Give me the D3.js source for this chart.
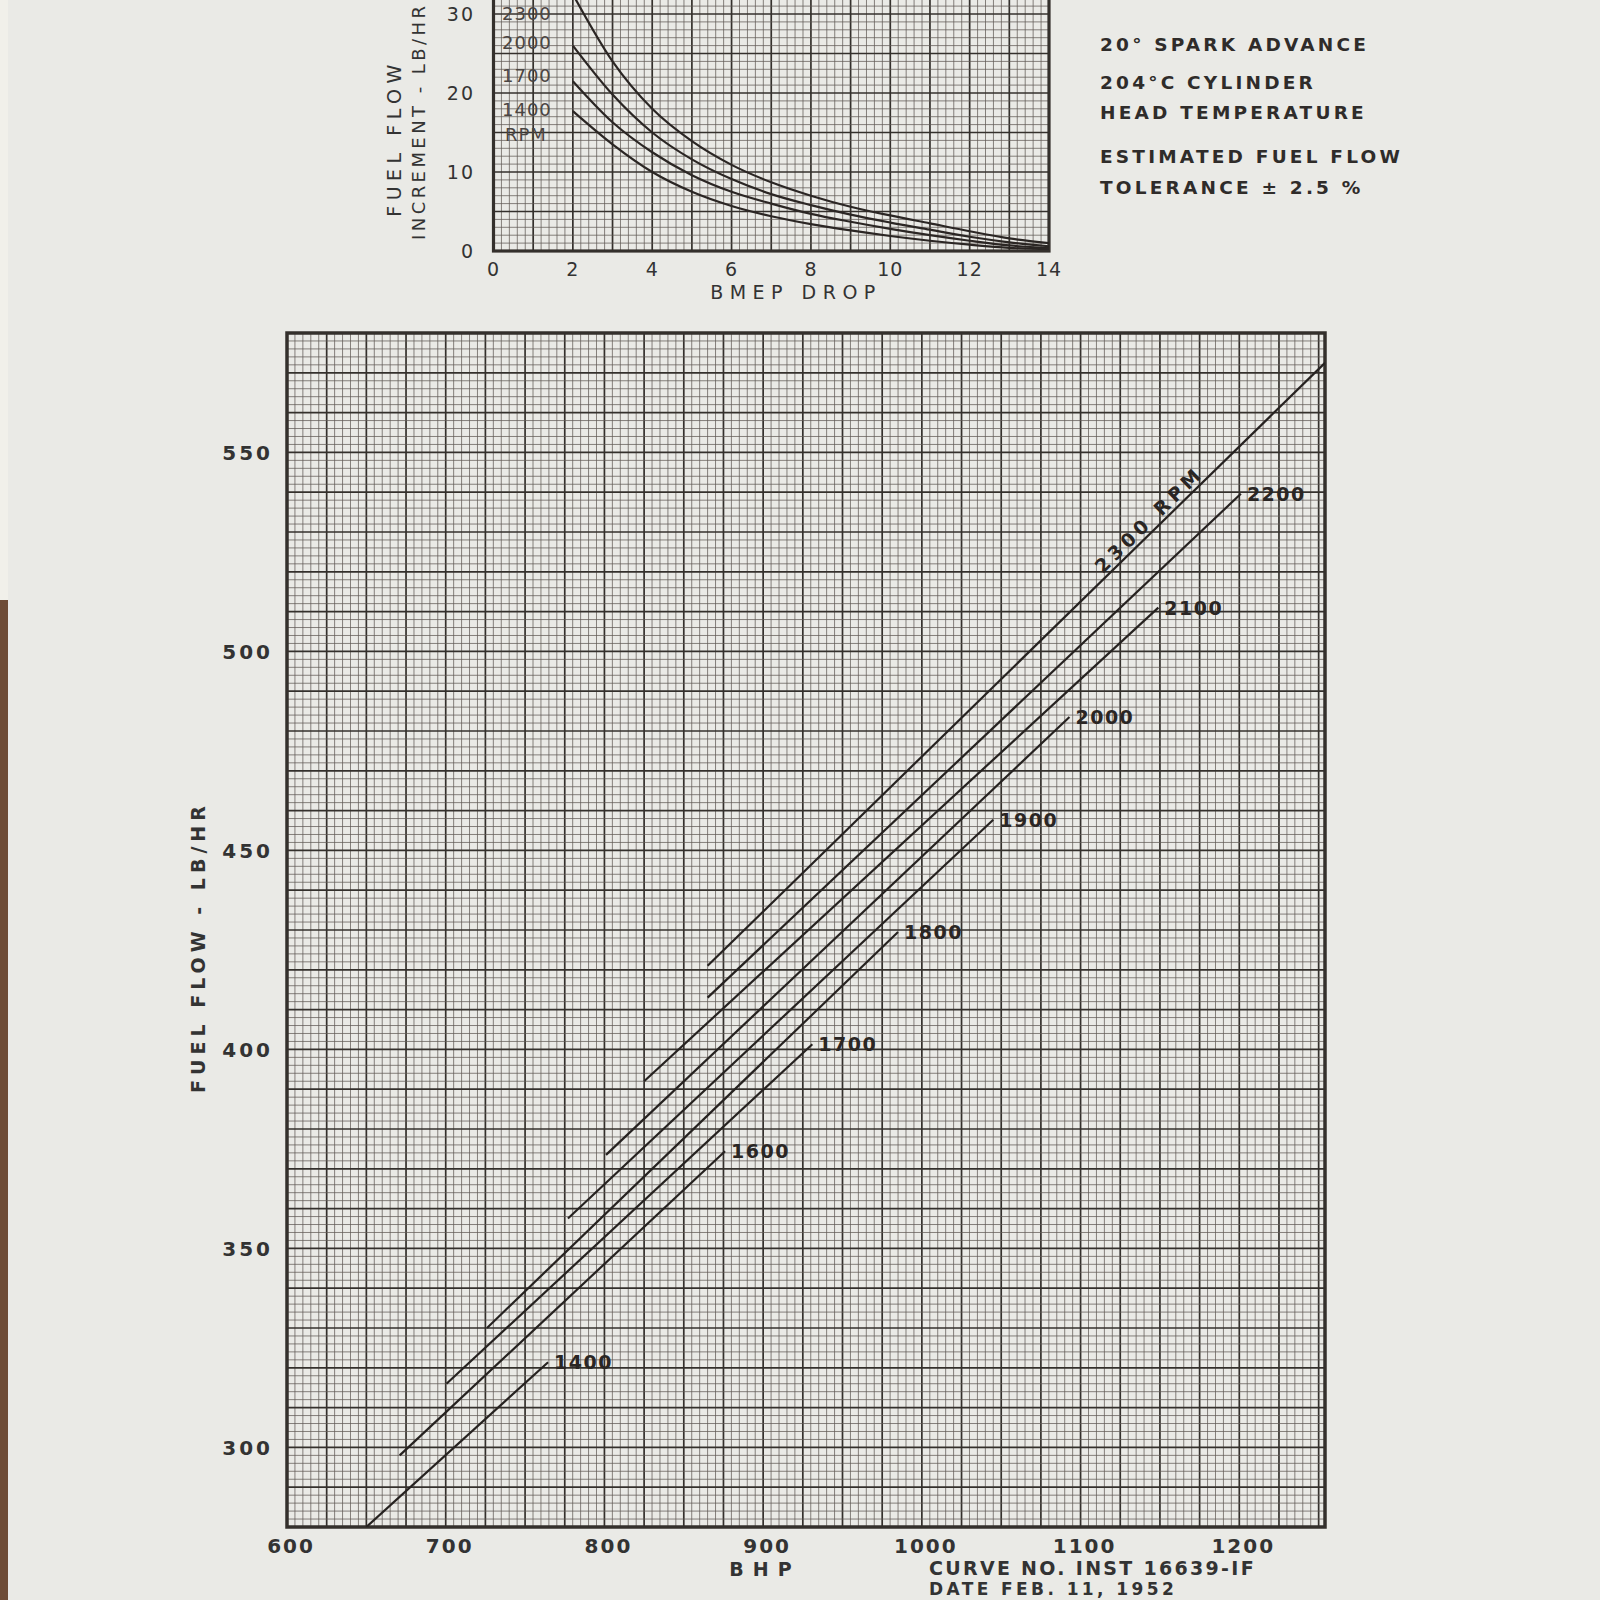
<!DOCTYPE html>
<html><head><meta charset="utf-8">
<script src="https://cdn.jsdelivr.net/npm/d3@7"></script>
<style>body{margin:0;background:#eaeae6;} svg{display:block;}</style>
</head><body><svg id="c" width="1600" height="1600"></svg>
<script>
// ---------- main chart data ----------
const rpmLabels = ["2300","2200","2100","2000","1900","1800","1700","1600","1400"];
const bhpStart  = [865, 865, 825, 801, 777, 726, 700.5, 671, 650];
const flowStart = [421, 413, 392, 373.5, 357.5, 330, 316, 298, 280];
const bhpEnd    = [1254, 1201, 1149, 1093, 1045, 985, 931, 876, 764.5];
const flowEnd   = [572.5, 539.6, 511, 483.5, 457.7, 429.5, 401.3, 374.4, 321.4];
const xTicks = [600, 700, 800, 900, 1000, 1100, 1200];
const yTicks = [300, 350, 400, 450, 500, 550];

// ---------- inset data ----------
const bmepDrop = [2, 3, 4, 5, 6, 7, 8, 9, 10, 11, 12, 13, 14];
const inc2300 = [32.5, 24.0, 18.0, 13.9, 10.9, 8.7, 7.0, 5.6, 4.5, 3.5, 2.5, 1.6, 1.0];
const inc2000 = [26.0, 19.8, 15.0, 11.6, 9.1, 7.2, 5.8, 4.6, 3.6, 2.7, 1.8, 1.1, 0.6];
const inc1700 = [21.5, 16.3, 12.5, 9.6, 7.5, 6.0, 4.7, 3.7, 2.8, 2.0, 1.3, 0.7, 0.4];
const inc1400 = [17.7, 13.5, 10.0, 7.5, 5.7, 4.4, 3.4, 2.6, 1.9, 1.3, 0.8, 0.4, 0.25];
const insetRpm = ["2300", "2000", "1700", "1400"];
const insetXTicks = [0, 2, 4, 6, 8, 10, 12, 14];
const insetYTicks = [0, 10, 20, 30];
const notes = ["20° SPARK ADVANCE", "204°C CYLINDER", "HEAD TEMPERATURE", "ESTIMATED FUEL FLOW", "TOLERANCE ± 2.5 %"];

const FONT = "'DejaVu Sans', 'Open Sans', sans-serif";
const INK = "#34302c";
const GRID = "#625b56";
const svg = d3.select("#c");

// left table edge decoration
svg.append("rect").attr("x",0).attr("y",600).attr("width",8).attr("height",1000).attr("fill","#6e4c36");
svg.append("rect").attr("x",0).attr("y",0).attr("width",8).attr("height",600).attr("fill","#f1f0ea");

// ================= MAIN CHART =================
const x = d3.scaleLinear().domain([600, 1254]).range([287, 1325]);
const y = d3.scaleLinear().domain([280, 580]).range([1527, 333]);

const gMain = svg.append("g");
const nx = Math.floor((1254 - 600) / 5);
for (let i = 0; i <= nx; i++) {
  const v = 600 + 5 * i, maj = i % 5 === 0;
  gMain.append("line").attr("x1", x(v)).attr("x2", x(v)).attr("y1", y(280)).attr("y2", y(580))
    .attr("stroke", maj ? INK : GRID).attr("stroke-width", maj ? 1.7 : 0.75);
}
for (let i = 0; i <= 150; i++) {
  const v = 280 + 2 * i, maj = i % 5 === 0;
  gMain.append("line").attr("x1", x(600)).attr("x2", x(1254)).attr("y1", y(v)).attr("y2", y(v))
    .attr("stroke", maj ? INK : GRID).attr("stroke-width", maj ? 1.7 : 0.75);
}
gMain.append("rect").attr("x", x(600)).attr("y", y(580)).attr("width", x(1254) - x(600)).attr("height", y(280) - y(580))
  .attr("fill", "none").attr("stroke", INK).attr("stroke-width", 3.5);

svg.append("clipPath").attr("id", "mclip").append("rect")
  .attr("x", x(600)).attr("y", y(580)).attr("width", x(1254) - x(600)).attr("height", y(280) - y(580));

const mainData = rpmLabels.map((r, i) => ({ r, p: [[bhpStart[i], flowStart[i]], [bhpEnd[i], flowEnd[i]]] }));
const ln = d3.line().x(d => x(d[0])).y(d => y(d[1]));
gMain.append("g").attr("clip-path", "url(#mclip)").selectAll("path").data(mainData).join("path")
  .attr("d", d => ln(d.p)).attr("fill", "none").attr("stroke", "#262220").attr("stroke-width", 2.2);

// end labels
mainData.filter(d => d.r !== "2300").forEach(d => {
  gMain.append("text").attr("x", x(d.p[1][0]) + 6).attr("y", y(d.p[1][1]) + 7)
    .attr("font-family", FONT).attr("font-size", 19).attr("font-weight", "bold").attr("letter-spacing", 1.5)
    .attr("fill", "#2a2624").text(d.r);
});
// rotated 2300 RPM label
{
  const d = mainData[0];
  const ang = Math.atan2(y(d.p[1][1]) - y(d.p[0][1]), x(d.p[1][0]) - x(d.p[0][0])) * 180 / Math.PI;
  const bx = 1148, by = d.p[0][1] + (bx - d.p[0][0]) * (d.p[1][1] - d.p[0][1]) / (d.p[1][0] - d.p[0][0]);
  gMain.append("text").attr("transform", `translate(${x(bx)},${y(by)}) rotate(${ang})`)
    .attr("y", -4).attr("text-anchor", "middle")
    .attr("font-family", FONT).attr("font-size", 19).attr("font-weight", "bold").attr("letter-spacing", 4.5)
    .attr("fill", "#2a2624").text("2300 RPM");
}

// axes labels
xTicks.forEach(t => {
  svg.append("text").attr("x", x(t) + 4).attr("y", 1553).attr("text-anchor", "middle")
    .attr("font-family", FONT).attr("font-size", 20).attr("font-weight", "bold").attr("letter-spacing", 2)
    .attr("fill", "#333").text(t);
});
yTicks.forEach(t => {
  svg.append("text").attr("x", 273).attr("y", y(t) + 8).attr("text-anchor", "end")
    .attr("font-family", FONT).attr("font-size", 20).attr("font-weight", "bold").attr("letter-spacing", 3)
    .attr("fill", "#333").text(t);
});
svg.append("text").attr("transform", "translate(205,947) rotate(-90)").attr("text-anchor", "middle")
  .attr("font-family", FONT).attr("font-size", 19).attr("font-weight", "bold").attr("letter-spacing", 5)
  .attr("fill", "#333").text("FUEL FLOW - LB/HR");
svg.append("text").attr("x", 765).attr("y", 1576).attr("text-anchor", "middle")
  .attr("font-family", FONT).attr("font-size", 19).attr("font-weight", "bold").attr("letter-spacing", 9).attr("fill", "#333").text("BHP");
svg.append("text").attr("x", 929).attr("y", 1575)
  .attr("font-family", FONT).attr("font-size", 19).attr("font-weight", "bold").attr("letter-spacing", 2.3).attr("fill", "#333").text("CURVE NO. INST 16639-IF");
svg.append("text").attr("x", 929).attr("y", 1595)
  .attr("font-family", FONT).attr("font-size", 17).attr("font-weight", "bold").attr("letter-spacing", 3.4).attr("fill", "#333").text("DATE FEB. 11, 1952");

// ================= INSET =================
const xi = d3.scaleLinear().domain([0, 14]).range([493.5, 1049]);
const yi = d3.scaleLinear().domain([0, 40]).range([251, 251 - 40 * 7.9]);
const gIn = svg.append("g");
for (let i = 0; i <= 70; i++) {
  const v = i * 0.2, maj = i % 5 === 0;
  gIn.append("line").attr("x1", xi(v)).attr("x2", xi(v)).attr("y1", yi(0)).attr("y2", yi(40))
    .attr("stroke", maj ? INK : GRID).attr("stroke-width", maj ? 1.7 : 0.75);
}
for (let i = 0; i <= 40; i++) {
  const maj = i % 5 === 0;
  gIn.append("line").attr("x1", xi(0)).attr("x2", xi(14)).attr("y1", yi(i)).attr("y2", yi(i))
    .attr("stroke", maj ? INK : GRID).attr("stroke-width", maj ? 1.7 : 0.75);
}
gIn.append("rect").attr("x", xi(0)).attr("y", yi(40)).attr("width", xi(14) - xi(0)).attr("height", yi(0) - yi(40))
  .attr("fill", "none").attr("stroke", INK).attr("stroke-width", 3.2);

svg.append("clipPath").attr("id", "iclip").append("rect")
  .attr("x", xi(0)).attr("y", yi(40)).attr("width", xi(14) - xi(0)).attr("height", yi(0) - yi(40));
const insetSeries = [inc2300, inc2000, inc1700, inc1400];
const lnI = d3.line().x((d, i) => xi(bmepDrop[i])).y(d => yi(d)).curve(d3.curveMonotoneX);
gIn.append("g").attr("clip-path", "url(#iclip)").selectAll("path").data(insetSeries).join("path")
  .attr("d", d => lnI(d)).attr("fill", "none").attr("stroke", "#2b2624").attr("stroke-width", 2.2);

const insetLabelY = [13, 42, 75, 109];
insetRpm.forEach((r, i) => {
  gIn.append("text").attr("x", 502).attr("y", insetLabelY[i] + 7)
    .attr("font-family", FONT).attr("font-size", 18).attr("letter-spacing", 1)
    .attr("fill", "#4a4542").text(r);
});
gIn.append("text").attr("x", 505).attr("y", 141)
  .attr("font-family", FONT).attr("font-size", 18).attr("letter-spacing", 1).attr("fill", "#4a4542").text("RPM");

insetXTicks.forEach(t => {
  svg.append("text").attr("x", xi(t)).attr("y", 276).attr("text-anchor", "middle")
    .attr("font-family", FONT).attr("font-size", 19).attr("letter-spacing", 1).attr("fill", "#333").text(t);
});
insetYTicks.forEach(t => {
  svg.append("text").attr("x", 475).attr("y", yi(t) + 7).attr("text-anchor", "end")
    .attr("font-family", FONT).attr("font-size", 19).attr("letter-spacing", 2).attr("fill", "#333").text(t);
});
svg.append("text").attr("x", 796).attr("y", 299).attr("text-anchor", "middle")
  .attr("font-family", FONT).attr("font-size", 19).attr("letter-spacing", 6.5).attr("fill", "#333").text("BMEP DROP");
svg.append("text").attr("transform", "translate(401,138) rotate(-90)").attr("text-anchor", "middle")
  .attr("font-family", FONT).attr("font-size", 19).attr("letter-spacing", 5.5).attr("fill", "#333").text("FUEL FLOW");
svg.append("text").attr("transform", "translate(425,240) rotate(-90)").attr("text-anchor", "start")
  .attr("font-family", FONT).attr("font-size", 18).attr("textLength", 234).attr("lengthAdjust", "spacing")
  .attr("fill", "#333").text("INCREMENT - LB/HR");

// notes
const noteY = [51, 89, 119, 163, 194];
notes.forEach((t, i) => {
  svg.append("text").attr("x", 1100).attr("y", noteY[i])
    .attr("font-family", FONT).attr("font-size", 18.5).attr("font-weight", "bold").attr("letter-spacing", 3.2).attr("fill", "#2f2c2a").text(t);
});
</script></body></html>
